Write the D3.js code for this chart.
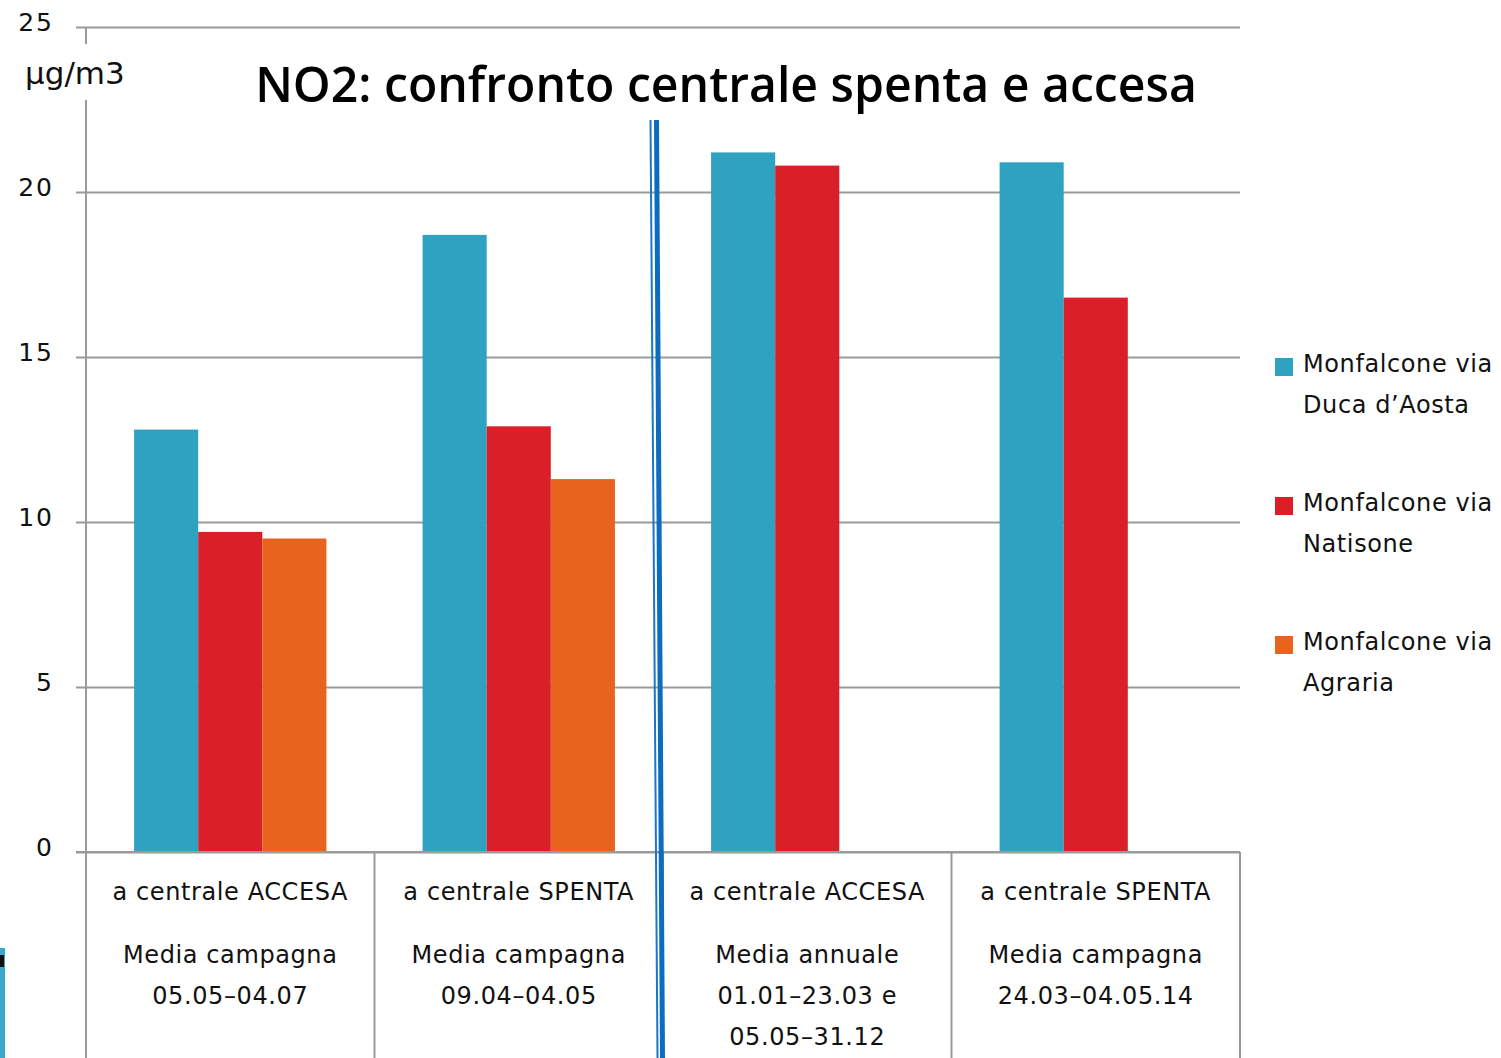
<!DOCTYPE html>
<html>
<head>
<meta charset="utf-8">
<script src="https://cdn.jsdelivr.net/npm/d3@7"></script>
<style>
  body { margin: 0; background: #fff; }
  text { font-family: "DejaVu Sans", sans-serif; fill: #111; }
</style>
</head>
<body>
<div id="chart"></div>
<script>
// categories (x axis, multi-line labels)
var categories = ['c1', 'c2', 'c3', 'c4'];
var catLines = [
    ['a centrale ACCESA', 'Media campagna', '05.05\u201304.07'],
    ['a centrale SPENTA', 'Media campagna', '09.04\u201304.05'],
    ['a centrale ACCESA', 'Media annuale', '01.01\u201323.03 e', '05.05\u201331.12'],
    ['a centrale SPENTA', 'Media campagna', '24.03\u201304.05.14']
];
var seriesNames = ['Monfalcone via Duca d\u2019Aosta', 'Monfalcone via Natisone', 'Monfalcone via Agraria'];
var legendLines = [['Monfalcone via', 'Duca d\u2019Aosta'], ['Monfalcone via', 'Natisone'], ['Monfalcone via', 'Agraria']];
var colors = ['#2ea2c0', '#da1f29', '#e8641e'];
var ducaAosta = [12.8, 18.7, 21.2, 20.9];
var natisone = [9.7, 12.9, 20.8, 16.8];
var agraria = [9.5, 11.3, null, null];
var yTicks = [0, 5, 10, 15, 20, 25];

var W = 1501, H = 1058;
var svg = d3.select('#chart').append('svg')
    .attr('width', W).attr('height', H);

var x0 = d3.scaleBand().domain(categories).range([86, 1240]).paddingInner(0).paddingOuter(0);
var x1 = d3.scaleBand().domain([0, 1, 2]).range([0, x0.bandwidth()]).paddingOuter(0.75).paddingInner(0);
var y = d3.scaleLinear().domain([0, 25]).range([852, 27]);

// bottom-left clipped picture fragment
svg.append('rect').attr('x', 0).attr('y', 948).attr('width', 5).attr('height', 110).attr('fill', '#3aa8cc');
svg.append('rect').attr('x', 0).attr('y', 955).attr('width', 4).attr('height', 12).attr('fill', '#111');

// gridlines + y ticks
var yAxis = d3.axisLeft(y).tickValues(yTicks).tickSize(-(1240 - 86)).tickPadding(22);
var gy = svg.append('g').attr('transform', 'translate(86,0)').call(yAxis);
gy.select('.domain').remove();
gy.selectAll('.tick line').attr('x1', -10).attr('stroke', '#9a9a9a').attr('stroke-width', 2);
gy.selectAll('.tick text').attr('font-size', 25).attr('font-family', 'DejaVu Sans')
    .attr('fill', '#111').attr('x', -32).attr('dy', '0.15em').style('letter-spacing', '2px');

// y axis line
svg.append('line').attr('x1', 86).attr('x2', 86).attr('y1', 27).attr('y2', H)
    .attr('stroke', '#9a9a9a').attr('stroke-width', 2);

// unit label
svg.append('rect').attr('x', 20).attr('y', 44).attr('width', 118).attr('height', 56).attr('fill', '#fff');
svg.append('text').attr('x', 25).attr('y', 84).attr('font-size', 31).text('\u00b5g/m3');

// category separators
svg.selectAll('.sep').data(categories.concat(['end'])).enter().append('line')
    .attr('x1', function(d, i) { return i < 4 ? x0(d) : x0.range()[1]; })
    .attr('x2', function(d, i) { return i < 4 ? x0(d) : x0.range()[1]; })
    .attr('y1', 852).attr('y2', H)
    .attr('stroke', '#9a9a9a').attr('stroke-width', 2);

// bars
var allSeries = [ducaAosta, natisone, agraria];
allSeries.forEach(function(vals, s) {
    var g = svg.append('g');
    vals.forEach(function(d, i) {
        if (d == null) return;
        g.append('rect')
            .attr('x', x0(categories[i]) + x1(s))
            .attr('width', x1.bandwidth())
            .attr('y', y(d))
            .attr('height', y(0) - y(d))
            .attr('fill', colors[s]);
    });
});

// baseline
svg.append('line').attr('x1', 76).attr('x2', 1240).attr('y1', 852).attr('y2', 852)
    .attr('stroke', '#9a9a9a').attr('stroke-width', 2);

// category labels
var lineY = [900, 963, 1004, 1045];
categories.forEach(function(c, i) {
    var cx = x0(c) + x0.bandwidth() / 2;
    catLines[i].forEach(function(t, j) {
        svg.append('text').attr('x', cx).attr('y', lineY[j])
            .attr('text-anchor', 'middle').attr('font-size', 24)
            .style('letter-spacing', '0.6px').text(t);
    });
});

// blue divider
svg.append('line').attr('x1', 650.5).attr('y1', 120).attr('x2', 657.5).attr('y2', H)
    .attr('stroke', '#1a76c8').attr('stroke-width', 2);
svg.append('line').attr('x1', 656.5).attr('y1', 120).attr('x2', 662.5).attr('y2', H)
    .attr('stroke', '#0b6cc0').attr('stroke-width', 5);

// title
var title = svg.append('text').attr('x', 726).attr('y', 102).attr('text-anchor', 'middle')
    .attr('font-weight', 600).attr('font-size', 46)
    .style('font-family', '"Open Sans", sans-serif').style('fill', '#000')
    .text('NO2: confronto centrale spenta e accesa');
var tw = title.node().getComputedTextLength();
title.attr('font-size', 46 * 942 / tw);

// legend
var leg = svg.selectAll('.leg').data(seriesNames).enter().append('g')
    .attr('transform', function(d, i) { return 'translate(1275,' + (358 + i * 139) + ')'; });
leg.append('rect').attr('width', 18).attr('height', 18).attr('fill', function(d, i) { return colors[i]; });
leg.each(function(d, i) {
    var g = d3.select(this);
    legendLines[i].forEach(function(t, j) {
        g.append('text').attr('x', 28).attr('y', 14 + j * 41).attr('font-size', 24)
            .style('letter-spacing', '0.6px').text(t);
    });
});
</script>
</body>
</html>
